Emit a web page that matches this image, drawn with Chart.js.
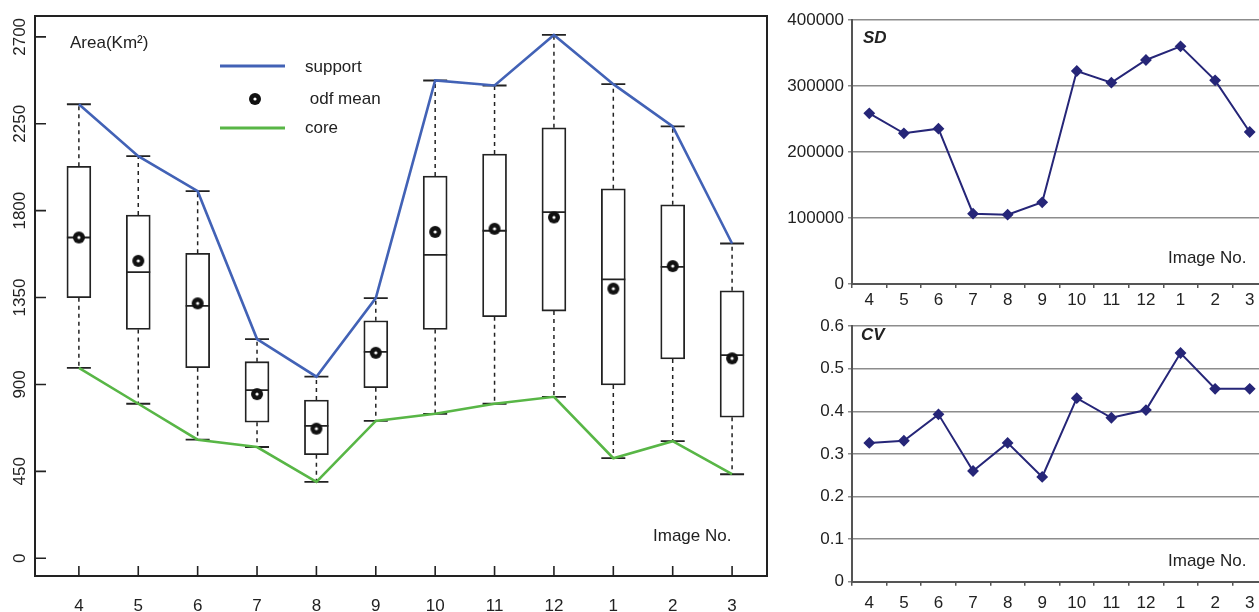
<!DOCTYPE html>
<html>
<head>
<meta charset="utf-8">
<script src="https://cdn.jsdelivr.net/npm/chart.js@4.4.1/dist/chart.umd.min.js"></script>
<style>
  html, body { margin: 0; padding: 0; background: #fff; overflow: hidden; width: 1259px; height: 612px; }
  canvas { position: absolute; }
  #area { left: 0; top: 0; }
  #sd { left: 780px; top: 0; }
  #cv { left: 780px; top: 312px; }
</style>
</head>
<body>
<canvas id="area" width="775" height="612"></canvas>
<canvas id="sd" width="500" height="312"></canvas>
<canvas id="cv" width="500" height="300"></canvas>
<script>
// données
const imageNo = ['4', '5', '6', '7', '8', '9', '10', '11', '12', '1', '2', '3'];

// boîtes à moustaches (Km2)
const upperWhisker = [2351, 2082, 1901, 1135, 940, 1347, 2474, 2448, 2710, 2455, 2236, 1630];
const boxTop = [2030, 1777, 1579, 1018, 819, 1230, 1979, 2093, 2229, 1913, 1830, 1385];
const medianArea = [1661, 1482, 1307, 871, 685, 1069, 1571, 1696, 1792, 1444, 1509, 1052];
const boxBottom = [1349, 1185, 987, 704, 536, 883, 1185, 1251, 1280, 897, 1032, 730];
const lowerWhisker = [986, 800, 614, 576, 395, 711, 748, 800, 836, 518, 606, 435];
const odfMean = [1661, 1540, 1320, 850, 671, 1064, 1690, 1706, 1765, 1396, 1513, 1035];

// SD et CV
const sdValues = [258600, 228300, 235300, 106500, 105000, 123800, 322700, 305000, 339400, 360100, 308600, 230300];
const cvValues = [0.326, 0.331, 0.393, 0.260, 0.326, 0.246, 0.431, 0.385, 0.403, 0.537, 0.453, 0.453];

// graduations
const areaTicks = [0, 450, 900, 1350, 1800, 2250, 2700];
const sdTicks = [0, 100000, 200000, 300000, 400000];
const cvTicks = [0, 0.1, 0.2, 0.3, 0.4, 0.5, 0.6];

const FONT = '"Liberation Sans", Arial, sans-serif';
const INK = '#222';
Chart.defaults.font.family = FONT;
Chart.defaults.color = INK;

// marqueur "odf mean" : rond noir avec point blanc
const meanDot = (() => {
    const c = document.createElement('canvas');
    c.width = 14; c.height = 14;
    const g = c.getContext('2d');
    g.fillStyle = '#111';
    g.beginPath(); g.arc(7, 7, 6, 0, Math.PI * 2); g.fill();
    g.fillStyle = '#fff';
    g.beginPath(); g.arc(7, 7, 1.6, 0, Math.PI * 2); g.fill();
    return c;
})();

// moustaches, extrémités et médianes
const boxPlugin = {
    id: 'boxplot',
    afterDatasetDraw(chart, args) {
        if (args.index !== 0) return;
        const ctx = chart.ctx, x = chart.scales.x, y = chart.scales.y;
        const half = 12;
        ctx.save();
        ctx.strokeStyle = INK;
        for (let i = 0; i < imageNo.length; i++) {
            const px = x.getPixelForValue(i);
            ctx.lineWidth = 1.5;
            ctx.setLineDash([4, 4]);
            ctx.beginPath();
            ctx.moveTo(px, y.getPixelForValue(boxTop[i]));
            ctx.lineTo(px, y.getPixelForValue(upperWhisker[i]));
            ctx.moveTo(px, y.getPixelForValue(boxBottom[i]));
            ctx.lineTo(px, y.getPixelForValue(lowerWhisker[i]));
            ctx.stroke();
            ctx.setLineDash([]);
            ctx.lineWidth = 1.8;
            ctx.beginPath();
            [upperWhisker[i], lowerWhisker[i], medianArea[i]].forEach(v => {
                const py = y.getPixelForValue(v);
                ctx.moveTo(px - half, py);
                ctx.lineTo(px + half, py);
            });
            ctx.stroke();
        }
        ctx.restore();
    },
    afterDraw(chart) {
        const ctx = chart.ctx, a = chart.chartArea;
        const x = chart.scales.x, y = chart.scales.y;
        ctx.save();
        ctx.strokeStyle = INK;
        ctx.lineWidth = 2;
        ctx.strokeRect(a.left, a.top, a.right - a.left, a.bottom - a.top);
        ctx.lineWidth = 1.6;
        ctx.beginPath();
        areaTicks.forEach(v => {
            const py = y.getPixelForValue(v);
            ctx.moveTo(a.left, py); ctx.lineTo(a.left + 11, py);
        });
        imageNo.forEach((_, i) => {
            const px = x.getPixelForValue(i);
            ctx.moveTo(px, a.bottom); ctx.lineTo(px, a.bottom - 10);
        });
        ctx.stroke();

        // légende
        ctx.lineWidth = 3;
        ctx.strokeStyle = '#4262b6';
        ctx.beginPath(); ctx.moveTo(220, 66); ctx.lineTo(285, 66); ctx.stroke();
        ctx.strokeStyle = '#58b646';
        ctx.beginPath(); ctx.moveTo(220, 128); ctx.lineTo(285, 128); ctx.stroke();
        ctx.drawImage(meanDot, 255 - 7, 99 - 7);

        ctx.fillStyle = INK;
        ctx.font = '17px ' + FONT;
        ctx.textBaseline = 'middle';
        ctx.textAlign = 'left';
        ctx.fillText('support', 305, 67);
        ctx.fillText(' odf mean', 305, 99);
        ctx.fillText('core', 305, 128);
        ctx.fillText('Area(Km²)', 70, 43);
        ctx.fillText('Image No.', 653, 536);
        ctx.restore();
    }
};

new Chart(document.getElementById('area'), {
    type: 'bar',
    data: {
        datasets: [{
            type: 'bar',
            label: 'box',
            data: boxTop.map((t, i) => ({ x: i, y: [boxBottom[i], t] })),
            backgroundColor: '#fff',
            borderColor: INK,
            borderWidth: 1.8,
            borderSkipped: false,
            barThickness: 24,
            order: 3
        }, {
            type: 'line',
            label: 'support',
            data: upperWhisker.map((v, i) => ({ x: i, y: v })),
            borderColor: '#4262b6',
            borderWidth: 2.6,
            pointRadius: 0,
            tension: 0,
            order: 1
        }, {
            type: 'line',
            label: 'core',
            data: lowerWhisker.map((v, i) => ({ x: i, y: v })),
            borderColor: '#58b646',
            borderWidth: 2.6,
            pointRadius: 0,
            tension: 0,
            order: 1
        }, {
            type: 'line',
            label: 'odf mean',
            data: odfMean.map((v, i) => ({ x: i, y: v })),
            showLine: false,
            pointStyle: meanDot,
            pointRadius: 7,
            order: 0
        }]
    },
    options: {
        responsive: false,
        animation: false,
        devicePixelRatio: 1,
        layout: { padding: { top: 16, right: 4, left: 0, bottom: 0 } },
        plugins: { legend: { display: false }, tooltip: { enabled: false } },
        scales: {
            x: {
                type: 'linear',
                min: -0.739,
                max: 11.588,
                offset: false,
                grid: { display: false, drawTicks: false },
                border: { display: false },
                afterBuildTicks: s => { s.ticks = imageNo.map((_, i) => ({ value: i })); },
                afterFit: s => { s.height = 36; },
                ticks: {
                    autoSkip: false,
                    maxRotation: 0,
                    padding: 20,
                    font: { size: 17 },
                    callback: v => imageNo[v]
                }
            },
            y: {
                min: -92,
                max: 2808,
                grid: { display: false, drawTicks: false },
                border: { display: false },
                afterBuildTicks: s => { s.ticks = areaTicks.map(v => ({ value: v })); },
                afterFit: s => { s.width = 35; },
                ticks: {
                    minRotation: 90,
                    maxRotation: 90,
                    crossAlign: 'center',
                    padding: -4,
                    font: { size: 17 },
                    callback: v => String(v)
                }
            }
        }
    },
    plugins: [boxPlugin]
});

// graphiques SD et CV
function textPlugin(title, titleX, titleY, noteY) {
    return {
        id: 'notes',
        afterDraw(chart) {
            const ctx = chart.ctx;
            ctx.save();
            ctx.fillStyle = INK;
            ctx.textBaseline = 'middle';
            ctx.textAlign = 'left';
            ctx.font = 'italic bold 17px ' + FONT;
            ctx.fillText(title, titleX, titleY);
            ctx.font = '17px ' + FONT;
            ctx.fillText('Image No.', 388, noteY);
            ctx.restore();
        }
    };
}

function lineChart(id, values, ticks, max, padTop, axisHeight, labelPad, fmt, title, titleX, titleY, noteY) {
    return new Chart(document.getElementById(id), {
        type: 'line',
        data: {
            labels: imageNo,
            datasets: [{
                data: values,
                borderColor: '#262678',
                backgroundColor: '#262678',
                borderWidth: 2,
                pointStyle: 'rectRot',
                pointRadius: 4.5,
                pointBackgroundColor: '#262678',
                pointBorderColor: '#262678',
                tension: 0
            }]
        },
        options: {
            responsive: false,
            animation: false,
            devicePixelRatio: 1,
            layout: { padding: { top: padTop, right: 13, left: 0, bottom: 0 } },
            plugins: { legend: { display: false }, tooltip: { enabled: false } },
            scales: {
                x: {
                    offset: true,
                    grid: { offset: true, drawOnChartArea: false, drawTicks: true, tickLength: 4, color: '#555', lineWidth: 1.5 },
                    border: { color: '#555', width: 2 },
                    afterFit: s => { s.height = axisHeight; },
                    ticks: { autoSkip: false, maxRotation: 0, padding: labelPad, font: { size: 17 } }
                },
                y: {
                    min: 0,
                    max: max,
                    grid: { color: '#8c8c8c', lineWidth: 1.5, tickLength: 4 },
                    border: { color: '#555', width: 2 },
                    afterBuildTicks: s => { s.ticks = ticks.map(v => ({ value: v })); },
                    afterFit: s => { s.width = 72; },
                    ticks: { padding: 4, font: { size: 17 }, callback: fmt }
                }
            }
        },
        plugins: [textPlugin(title, titleX, titleY, noteY)]
    });
}

lineChart('sd', sdValues, sdTicks, 400000, 20, 28, 2, v => String(v), 'SD', 83, 38, 258);
lineChart('cv', cvValues, cvTicks, 0.6, 4.7, 30.3, 7, v => (v === 0 ? '0' : v.toFixed(1)), 'CV', 81, 23, 249);
</script>
</body>
</html>
